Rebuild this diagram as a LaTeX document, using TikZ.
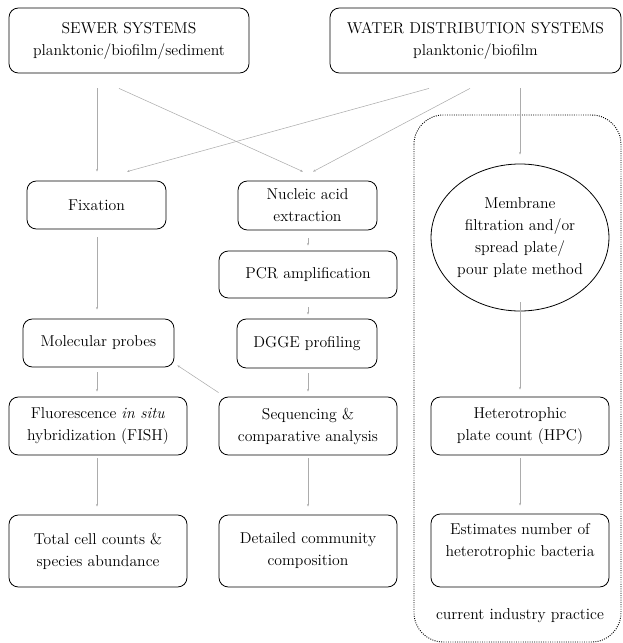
\documentclass[tikz,border=0pt]{standalone}
\usetikzlibrary{shapes.geometric,arrows.meta,calc}
\tikzset{
  procbox/.style={draw, rounded corners=7pt, line width=0.6pt, align=center, inner sep=0pt,
    font=\fontsize{11.8}{16.5}\selectfont},
  link/.style={draw=gray!65, line width=0.4pt, -{Stealth[length=2pt,width=1.6pt]}},
}
\begin{document}
\begin{tikzpicture}[x=0.75pt,y=-0.75pt]
\useasboundingbox (0,0) rectangle (622,643);
% current industry practice region
\draw[densely dotted, line width=0.7pt, rounded corners=22pt] (414,115) rectangle (621,642);
\node[font=\fontsize{11.8}{16.5}\selectfont] (practice) at (520,616) {current industry practice};
% sources
\node[procbox, minimum width=180pt, minimum height=48.75pt] (sewer) at (129,40.5) {SEWER SYSTEMS\\planktonic/biofilm/sediment};
\node[procbox, minimum width=218.25pt, minimum height=48.75pt] (water) at (475.5,40.5) {WATER DISTRIBUTION SYSTEMS\\planktonic/biofilm};
% left column
\node[procbox, minimum width=104.25pt, minimum height=36pt] (fix) at (96.5,205) {Fixation};
\node[procbox, minimum width=113.25pt, minimum height=36pt] (probes) at (98.5,343) {Molecular probes};
\node[procbox, minimum width=133.5pt, minimum height=43.5pt] (fish) at (98,426) {Fluorescence \textit{in situ}\\hybridization (FISH)};
\node[procbox, minimum width=133.5pt, minimum height=54pt] (total) at (98,551) {Total cell counts \&\\species abundance};
% middle column
\node[procbox, minimum width=104.25pt, minimum height=36.75pt] (nuc) at (307.5,205.5) {Nucleic acid\\extraction};
\node[procbox, minimum width=133.5pt, minimum height=35.25pt] (pcr) at (308,274.5) {PCR amplification};
\node[procbox, minimum width=105pt, minimum height=36.75pt] (dgge) at (307,343.5) {DGGE profiling};
\node[procbox, minimum width=133.5pt, minimum height=43.5pt] (seq) at (308,426) {Sequencing \&\\comparative analysis};
\node[procbox, minimum width=133.5pt, minimum height=54pt] (detail) at (308,551) {Detailed community\\composition};
% right column
\node[draw, ellipse, line width=0.6pt, inner sep=0pt, minimum width=120pt, minimum height=110.25pt, align=center,
  font=\fontsize{11.8}{16.5}\selectfont] (circ) at (520,237.5) {Membrane\\filtration and/or\\spread plate/\\pour plate method};
\node[procbox, minimum width=133.5pt, minimum height=43.5pt] (hpc) at (520,426) {Heterotrophic\\plate count (HPC)};
\node[procbox, minimum width=133.5pt, minimum height=54.75pt] (estim) at (520,550.5) {Estimates number of\\heterotrophic bacteria\\\mbox{}};
% connectors
\draw[link] ($(sewer.south)+(-32,15)$) -- ($(fix.north)+(0.5,-9)$);
\draw[link] ($(sewer.south)+(-10,15)$) -- ($(nuc.north)+(-4.5,-9)$);
\draw[link] ($(water.south)+(-46.5,15)$) -- ($(fix.north)+(30.5,-9)$);
\draw[link] ($(water.south)+(-5.5,15)$) -- ($(nuc.north)+(5.5,-9)$);
\draw[link] ($(water.south)+(44.5,15)$) -- ($(circ.north)+(0,-9)$);
\draw[link] ($(fix.south)+(0.5,8)$) -- ($(probes.north)+(-1.5,-9)$);
\draw[link] ($(nuc.south)+(0.5,8)$) -- ($(pcr.north)+(0,-5)$);
\draw[link] ($(pcr.south)+(0,9)$) -- ($(dgge.north)+(1,-4)$);
\draw[link] ($(probes.south)+(-1.5,5)$) -- ($(fish.north)+(-1,-5)$);
\draw[link] ($(dgge.south)+(1,5)$) -- ($(seq.north)+(0,-5)$);
\draw[link] ($(seq.north west)+(0,-4)$) -- ($(probes.south east)+(3,-2)$);
\draw[link] ($(circ.south)+(0,-9)$) -- ($(hpc.north)+(0,-7)$);
\draw[link] ($(fish.south)+(-1,3)$) -- ($(total.north)+(-1,-8)$);
\draw[link] ($(seq.south)+(0,3)$) -- ($(detail.north)+(0,-8)$);
\draw[link] ($(hpc.south)+(0,3)$) -- ($(estim.north)+(0,-8)$);
\end{tikzpicture}
\end{document}
